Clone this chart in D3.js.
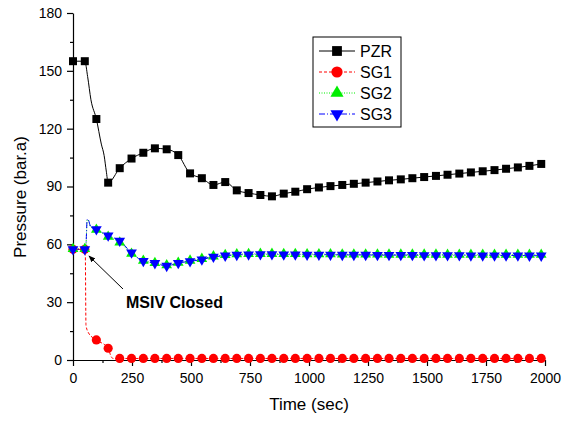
<!DOCTYPE html>
<html>
<head>
<meta charset="utf-8">
<script src="https://cdn.jsdelivr.net/npm/d3@7"></script>
<style>
  body { margin: 0; background: #fff; }
  text { font-family: "Liberation Sans", Arial, sans-serif; }
</style>
</head>
<body>
<div class="chart"></div>
<script>
// marker times (sec)
var times = [0, 50, 99, 149, 198, 248, 298, 347, 397, 446, 496, 546, 595, 645, 694, 744, 794, 843, 893, 942,
             992, 1042, 1091, 1141, 1190, 1240, 1290, 1339, 1389, 1438, 1488, 1538, 1587, 1637, 1686, 1736, 1786, 1835, 1885, 1934, 1984];

var pzr = [155, 155, 125, 92, 99.5, 104.5, 107.5, 109.8, 109.3, 106.3, 96.8, 94.3, 90.8, 92.3, 88, 86.6, 85.6, 84.9, 86.3, 87.3,
           88.6, 89.5, 90.2, 90.8, 91.4, 92, 92.6, 93.2, 93.7, 94.3, 94.9, 95.5, 96.1, 96.7, 97.3, 97.9, 98.5, 99.2, 99.9, 100.7, 101.7];
var sg1 = [57.4, 57.4, 10.4, 6.1, 0.8, 0.8, 0.8, 0.8, 0.8, 0.8, 0.8, 0.8, 0.8, 0.8, 0.8, 0.8, 0.8, 0.8, 0.8, 0.8,
           0.8, 0.8, 0.8, 0.8, 0.8, 0.8, 0.8, 0.8, 0.8, 0.8, 0.8, 0.8, 0.8, 0.8, 0.8, 0.8, 0.8, 0.8, 0.8, 0.8, 0.8];
var sg2 = [57.6, 57.6, 67.6, 64.0, 61.0, 55.2, 51.5, 50.4, 49.2, 50.5, 51.6, 52.5, 53.8, 54.5, 54.9, 55.0, 55.1, 55.1, 55.0, 55.0,
           54.9, 54.9, 54.9, 54.8, 54.8, 54.8, 54.8, 54.7, 54.7, 54.7, 54.7, 54.7, 54.6, 54.6, 54.6, 54.6, 54.6, 54.6, 54.6, 54.6, 54.6];
var sg3 = [57.4, 57.4, 67.8, 64.5, 61.8, 55.7, 51.3, 50.2, 48.8, 50.3, 51.2, 52.1, 53.5, 54.1, 54.5, 54.7, 54.8, 54.8, 54.7, 54.7,
           54.6, 54.6, 54.6, 54.5, 54.5, 54.5, 54.4, 54.4, 54.4, 54.4, 54.3, 54.3, 54.3, 54.3, 54.2, 54.2, 54.2, 54.2, 54.2, 54.1, 54.1];

// extra points on the lines between markers (transient after MSIV closure)
var pzrExtra = [[62, 147], [76, 135], [120, 112], [132, 106], [141, 98]];
var sg1Extra = [[52, 56], [55, 18], [66, 14], [163, 1.4], [172, 0.8]];
var sg2Extra = [[55, 60], [60, 72.5], [63, 72.8], [75, 69]];
var sg3Extra = [[55, 60], [60, 72.8], [63, 73.1], [75, 69.2]];

var xTicks = [0, 250, 500, 750, 1000, 1250, 1500, 1750, 2000];
var yTicks = [0, 30, 60, 90, 120, 150, 180];

var W = 571, H = 421;
var pLeft = 73, pRight = 545, pTop = 13, pBottom = 360;

var svg = d3.select(".chart")
            .append("svg")
            .attr("width", W)
            .attr("height", H);

var x = d3.scaleLinear().domain([0, 2000]).range([pLeft, pRight]);
var y = d3.scaleLinear().domain([0, 180]).range([pBottom, pTop]);

// axes
var minorX = d3.range(125, 2000, 250);
var minorY = d3.range(15, 180, 30);

svg.append("g")
   .attr("transform", "translate(0," + pBottom + ")")
   .call(d3.axisBottom(x).tickValues(minorX).tickSize(3).tickSizeOuter(0).tickFormat(""))
   .call(g => g.select(".domain").remove());
svg.append("g")
   .attr("transform", "translate(" + pLeft + ",0)")
   .call(d3.axisLeft(y).tickValues(minorY).tickSize(3).tickSizeOuter(0).tickFormat(""))
   .call(g => g.select(".domain").remove());

svg.append("g")
   .attr("transform", "translate(0," + pBottom + ")")
   .call(d3.axisBottom(x).tickValues(xTicks).tickSize(6).tickSizeOuter(0).tickPadding(7).tickFormat(d3.format("d")))
   .call(g => g.selectAll("text").attr("font-size", 14).attr("font-family", "Liberation Sans, Arial, sans-serif"));
svg.append("g")
   .attr("transform", "translate(" + pLeft + ",0)")
   .call(d3.axisLeft(y).tickValues(yTicks).tickSize(6).tickSizeOuter(0).tickPadding(5))
   .call(g => g.selectAll("text").attr("font-size", 14).attr("font-family", "Liberation Sans, Arial, sans-serif"));

svg.selectAll(".domain, .tick line").attr("stroke", "#000").attr("stroke-width", 1.2);

svg.append("text")
   .attr("x", (pLeft + pRight) / 2)
   .attr("y", 410)
   .attr("text-anchor", "middle")
   .attr("font-size", 17)
   .text("Time (sec)");
svg.append("text")
   .attr("transform", "translate(26,197) rotate(-90)")
   .attr("text-anchor", "middle")
   .attr("font-size", 17)
   .text("Pressure (bar.a)");

// series
var series = [
  {name: "PZR", vals: pzr, extra: pzrExtra, color: "#000", dash: null, sym: d3.symbolSquare, size: 64, rot: 0},
  {name: "SG1", vals: sg1, extra: sg1Extra, color: "#ff0000", dash: "3,2", sym: d3.symbolCircle, size: 66, rot: 0},
  {name: "SG2", vals: sg2, extra: sg2Extra, color: "#00ee00", dash: "1,1.5", sym: d3.symbolTriangle, size: 50, rot: 0},
  {name: "SG3", vals: sg3, extra: sg3Extra, color: "#0000ff", dash: "6,2,1,2", sym: d3.symbolTriangle, size: 50, rot: 180}
];

var line = d3.line()
             .x(d => x(d[0]))
             .y(d => y(d[1]))
             .curve(d3.curveMonotoneX);

series.forEach(function(s) {
  var pts = times.map((t, i) => [t, s.vals[i]]).concat(s.extra);
  pts.sort((a, b) => a[0] - b[0]);
  svg.append("path")
     .datum(pts)
     .attr("fill", "none")
     .attr("stroke", s.color)
     .attr("stroke-width", 1)
     .attr("stroke-dasharray", s.dash)
     .attr("d", line);
});

series.forEach(function(s) {
  svg.append("g")
     .selectAll("path")
     .data(times)
     .enter()
     .append("path")
     .attr("d", d3.symbol().type(s.sym).size(s.size))
     .attr("fill", s.color)
     .attr("transform", (d, i) => "translate(" + x(d) + "," + y(s.vals[i]) + ") rotate(" + s.rot + ")");
});

// annotation
svg.append("defs")
   .append("marker")
   .attr("id", "arrow")
   .attr("viewBox", "0 0 10 10")
   .attr("refX", 9)
   .attr("refY", 5)
   .attr("markerWidth", 7)
   .attr("markerHeight", 7)
   .attr("orient", "auto")
   .append("path")
   .attr("d", "M0,1 L10,5 L0,9 z")
   .attr("fill", "#000");

svg.append("line")
   .attr("x1", 123).attr("y1", 289)
   .attr("x2", 89).attr("y2", 256)
   .attr("stroke", "#000")
   .attr("stroke-width", 1)
   .attr("marker-end", "url(#arrow)");

svg.append("text")
   .attr("x", 126)
   .attr("y", 308)
   .attr("font-size", 16)
   .attr("font-weight", "bold")
   .text("MSIV Closed");

// legend
var legend = svg.append("g").attr("transform", "translate(313,37)");
legend.append("rect")
      .attr("width", 88)
      .attr("height", 90)
      .attr("fill", "#fff")
      .attr("stroke", "#000")
      .attr("stroke-width", 1);

var rows = legend.selectAll("g.row")
                 .data(series)
                 .enter()
                 .append("g")
                 .attr("class", "row")
                 .attr("transform", (d, i) => "translate(0," + (14 + i * 21) + ")");
rows.append("line")
    .attr("x1", 6).attr("x2", 42)
    .attr("stroke", d => d.color)
    .attr("stroke-dasharray", d => d.dash);
rows.append("path")
    .attr("d", d => d3.symbol().type(d.sym).size(d.size * 1.5)())
    .attr("fill", d => d.color)
    .attr("transform", d => "translate(24,0) rotate(" + d.rot + ")");
rows.append("text")
    .attr("x", 47)
    .attr("y", 6)
    .attr("font-size", 16)
    .text(d => d.name);
</script>
</body>
</html>
